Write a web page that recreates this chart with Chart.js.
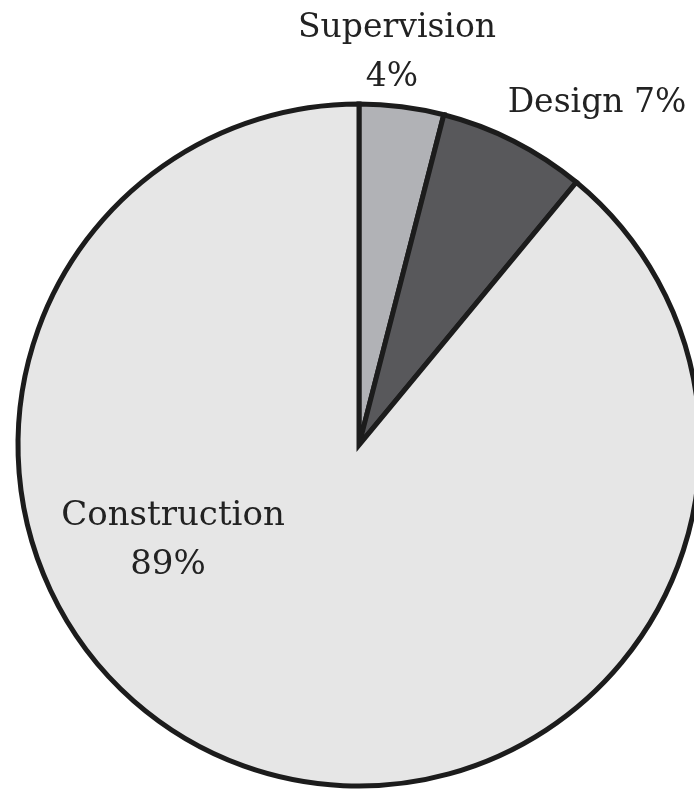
<!DOCTYPE html>
<html>
<head>
<meta charset="utf-8">
<script src="https://cdn.jsdelivr.net/npm/chart.js@4.4.1/dist/chart.umd.min.js"></script>
<style>
  html, body { margin: 0; padding: 0; background: #fff; overflow: hidden; }
  #costChart { position: absolute; left: 0; top: 0; }
</style>
</head>
<body>
<canvas id="costChart" width="720" height="791"></canvas>
<script>
const categories = ['Supervision', 'Design', 'Construction'];
const shares = [4, 7, 89];
const sliceColors = ['#b1b2b6', '#58585b', '#e6e6e6'];

// where each label block sits, relative to the pie centre
const labelSpots = [
    { dx: 38, dy: -408, split: true, size: 33 },
    { dx: 238, dy: -333, split: false, size: 33 },
    { dx: -186, dy: 80, split: true, size: 34 }
];

const sliceLabels = {
    id: 'sliceLabels',
    afterDatasetsDraw(chart) {
        const ctx = chart.ctx;
        const arc = chart.getDatasetMeta(0).data[0];
        const cx = arc.x;
        const cy = arc.y;
        ctx.save();
        ctx.fillStyle = '#222';
        ctx.textAlign = 'center';
        ctx.textBaseline = 'alphabetic';
        categories.forEach(function (name, i) {
            const spot = labelSpots[i];
            const pct = shares[i] + '%';
            ctx.font = spot.size + 'px "DejaVu Serif"';
            if (spot.split) {
                ctx.fillText(name, cx + spot.dx, cy + spot.dy);
                ctx.fillText(pct, cx + spot.dx - 5, cy + spot.dy + 49);
            } else {
                ctx.fillText(name + ' ' + pct, cx + spot.dx, cy + spot.dy);
            }
        });
        ctx.restore();
    }
};

new Chart(document.getElementById('costChart').getContext('2d'), {
    type: 'pie',
    data: {
        labels: categories,
        datasets: [{
            data: shares,
            backgroundColor: sliceColors,
            borderColor: '#1c1c1c',
            borderWidth: 5,
            borderJoinStyle: 'miter'
        }]
    },
    options: {
        responsive: false,
        devicePixelRatio: 1,
        animation: false,
        radius: 341,
        layout: {
            padding: { left: 15, right: 17, top: 101, bottom: 2 }
        },
        plugins: {
            legend: { display: false },
            tooltip: { enabled: false }
        }
    },
    plugins: [sliceLabels]
});
</script>
</body>
</html>
